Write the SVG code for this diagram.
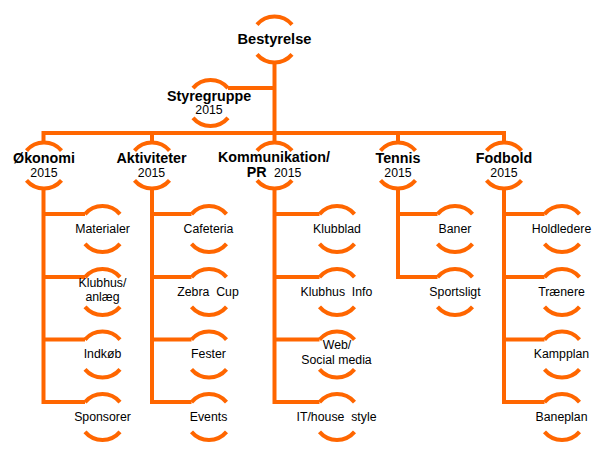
<svg xmlns="http://www.w3.org/2000/svg" xmlns:xlink="http://www.w3.org/1999/xlink" width="606" height="457" viewBox="0 0 606 457">
<defs>
<path id="ring" d="M-17.5,-14.9 A23,23 0 0 1 17.5,-14.9 M-17.5,14.9 A23,23 0 0 0 17.5,14.9"/>
</defs>
<style>
.r{fill:none;stroke:#FF6600;stroke-width:4}
.c{fill:none;stroke:#FF6600;stroke-width:4;stroke-linejoin:miter}
text{font-family:"Liberation Sans",Arial,sans-serif;fill:#000;text-anchor:middle}
.b{font-weight:bold;font-size:14.3px}
.n{font-size:12.3px}
.p{white-space:pre}
</style>
<rect width="606" height="457" fill="#fff"/>
<g id="connectors" class="c">
<path d="M274.5,62.5 V142.5"/>
<path d="M228,88.1 H274.5"/>
<path d="M43.5,142.5 V133 H504 V142.5"/>
<path d="M152,133 V142.5"/>
<path d="M398,133 V142.5"/>
<path d="M43.5,188.5 V402.1 H85 M43.5,214.1 H85 M43.5,277.1 H85 M43.5,339.6 H85"/>
<path d="M152,188.5 V402.1 H191.5 M152,214.1 H191.5 M152,277.1 H191.5 M152,339.6 H191.5"/>
<path d="M274.5,188.5 V402.1 H319.5 M274.5,214.1 H319.5 M274.5,277.1 H319.5 M274.5,339.6 H319.5"/>
<path d="M398,188.5 V277.1 H437.5 M398,214.1 H437.5"/>
<path d="M504,188.5 V402.1 H544.5 M504,214.1 H544.5 M504,277.1 H544.5 M504,339.6 H544.5"/>
</g>
<g id="bestyrelse"><use href="#ring" x="274.5" y="39.5" class="r"/><text x="274.5" y="44" class="b" style="font-size:14.6px">Bestyrelse</text></g>
<g id="styregruppe"><use href="#ring" x="210.5" y="103" class="r"/><text x="209" y="100.5" class="b">Styregruppe</text><text x="209" y="113.5" class="n">2015</text></g>
<g id="okonomi"><use href="#ring" x="44" y="165.5" class="r"/><text x="44" y="163.3" class="b">Økonomi</text><text x="44" y="176.5" class="n">2015</text></g>
<g id="aktiviteter"><use href="#ring" x="152" y="165.5" class="r"/><text x="151.5" y="163.3" class="b">Aktiviteter</text><text x="151.5" y="176.5" class="n">2015</text></g>
<g id="kommunikation"><use href="#ring" x="274.5" y="165.5" class="r"/><text x="274" y="161.7" class="b">Kommunikation/</text><text x="246.7" y="176.7" class="b" style="text-anchor:start">PR</text><text x="274" y="176.7" class="n" style="text-anchor:start">2015</text></g>
<g id="tennis"><use href="#ring" x="398" y="165.5" class="r"/><text x="398" y="163.3" class="b">Tennis</text><text x="398" y="176.7" class="n">2015</text></g>
<g id="fodbold"><use href="#ring" x="504" y="165.5" class="r"/><text x="504" y="163.3" class="b">Fodbold</text><text x="504" y="176.5" class="n">2015</text></g>
<g id="materialer"><use href="#ring" x="102.5" y="229" class="r"/><text x="102.5" y="232.8" class="n">Materialer</text></g>
<g id="klubhus-anlaeg"><use href="#ring" x="102.5" y="292" class="r"/><text x="102.5" y="287" class="n">Klubhus/</text><text x="102.5" y="300.5" class="n">anlæg</text></g>
<g id="indkob"><use href="#ring" x="102.5" y="354.5" class="r"/><text x="102.5" y="358.3" class="n">Indkøb</text></g>
<g id="sponsorer"><use href="#ring" x="102.5" y="417" class="r"/><text x="102.5" y="420.8" class="n">Sponsorer</text></g>
<g id="cafeteria"><use href="#ring" x="209" y="229" class="r"/><text x="208.5" y="232.8" class="n">Cafeteria</text></g>
<g id="zebra-cup"><use href="#ring" x="209" y="292" class="r"/><text x="208" y="295.8" class="n p">Zebra  Cup</text></g>
<g id="fester"><use href="#ring" x="209" y="354.5" class="r"/><text x="208.5" y="358.3" class="n">Fester</text></g>
<g id="events"><use href="#ring" x="209" y="417" class="r"/><text x="208.5" y="420.8" class="n">Events</text></g>
<g id="klubblad"><use href="#ring" x="337" y="229" class="r"/><text x="337" y="232.8" class="n">Klubblad</text></g>
<g id="klubhus-info"><use href="#ring" x="337" y="292" class="r"/><text x="336.5" y="295.8" class="n p">Klubhus  Info</text></g>
<g id="web"><use href="#ring" x="337" y="354.5" class="r"/><text x="337" y="349.3" class="n">Web/</text><text x="336.5" y="364.3" class="n">Social media</text></g>
<g id="it-house-style"><use href="#ring" x="337" y="417" class="r"/><text x="336.5" y="420.8" class="n p">IT/house  style</text></g>
<g id="baner"><use href="#ring" x="455" y="229" class="r"/><text x="455" y="232.8" class="n">Baner</text></g>
<g id="sportsligt"><use href="#ring" x="455" y="292" class="r"/><text x="455" y="295.8" class="n">Sportsligt</text></g>
<g id="holdledere"><use href="#ring" x="562" y="229" class="r"/><text x="561.5" y="232.8" class="n">Holdledere</text></g>
<g id="traenere"><use href="#ring" x="562" y="292" class="r"/><text x="561.5" y="295.8" class="n">Trænere</text></g>
<g id="kampplan"><use href="#ring" x="562" y="354.5" class="r"/><text x="561.5" y="358.3" class="n">Kampplan</text></g>
<g id="baneplan"><use href="#ring" x="562" y="417" class="r"/><text x="561.5" y="420.8" class="n">Baneplan</text></g>
</svg>
